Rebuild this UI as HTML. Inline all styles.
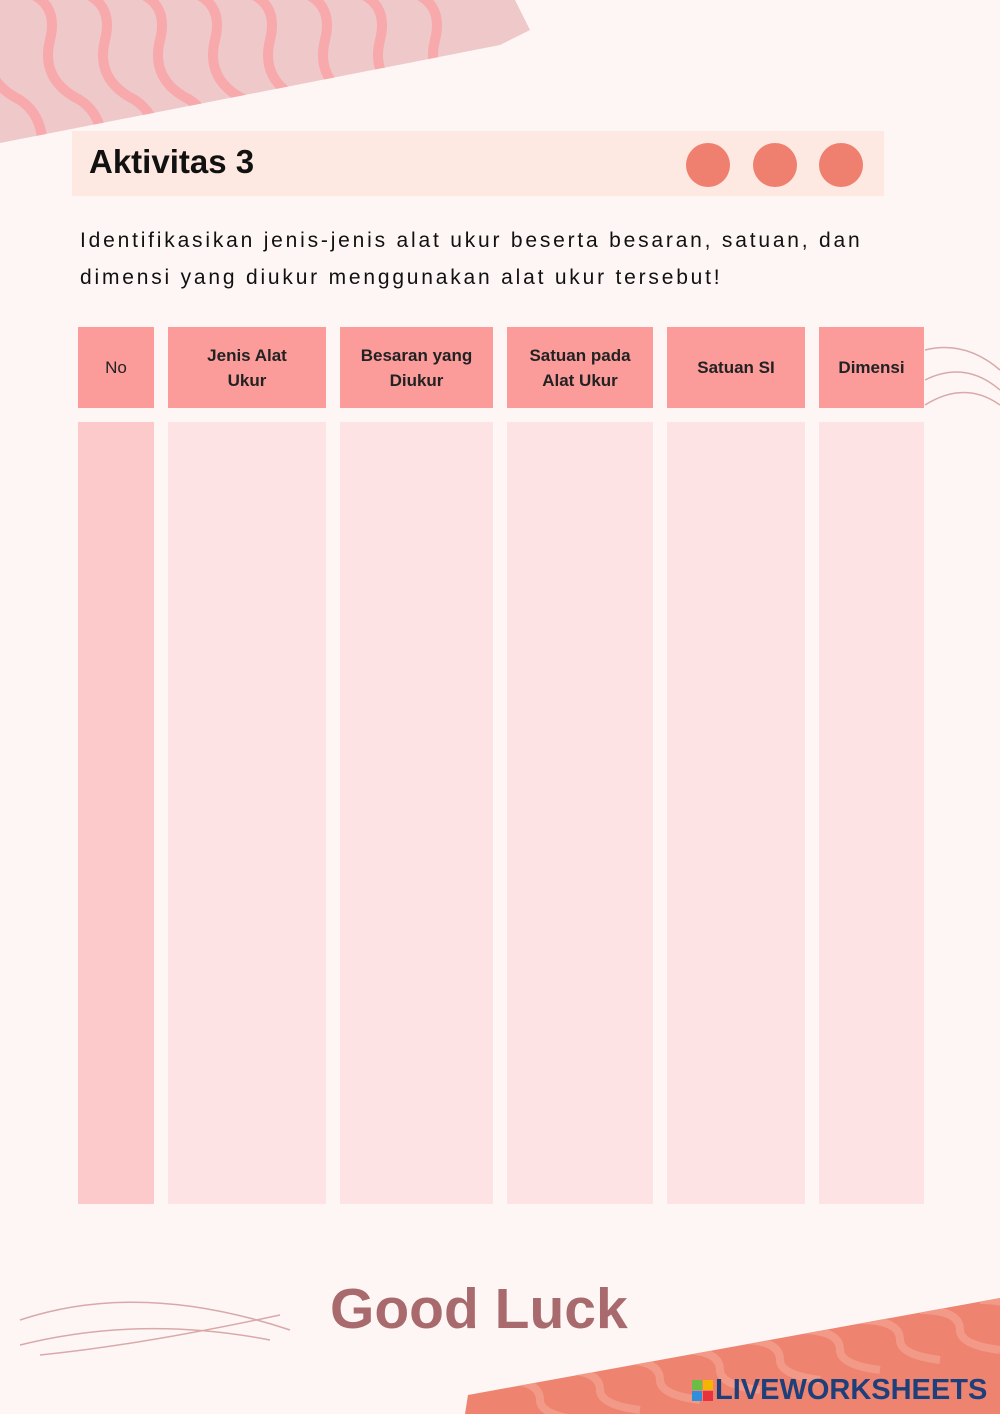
<!DOCTYPE html>
<html><head><meta charset="utf-8"><style>
body{margin:0;width:1000px;height:1414px;background:#fdf6f5;position:relative;overflow:hidden;font-family:"Liberation Sans",sans-serif}
.a{position:absolute}
.h{position:absolute;top:327px;height:81px;background:#fb9c9b;display:flex;align-items:center;justify-content:center;text-align:center;font-size:17px;font-weight:bold;color:#222;line-height:25px}
.b{position:absolute;top:422px;height:782px;background:#fde3e3}
</style></head><body>
<svg class="a" style="left:0;top:0" width="1000" height="1414">
<defs><clipPath id="c1"><polygon points="0,0 515,0 530,30 500,45 0,143"/></clipPath>
<clipPath id="c2"><polygon points="468,1395 1000,1298 1000,1414 465,1414"/></clipPath></defs>
<polygon points="0,0 515,0 530,30 500,45 0,143" fill="#efc8ca"/>
<g clip-path="url(#c1)" stroke="#f8a9ab" stroke-width="10" fill="none" stroke-linecap="round">
<path d="M-40,-10 q40,10 30,50 q-10,40 30,60 q30,20 20,70"/>
<path d="M20,-10 q40,10 30,50 q-10,40 30,60 q30,20 20,70"/>
<path d="M75,-10 q40,10 30,50 q-10,40 30,60 q30,20 20,70"/>
<path d="M130,-10 q40,10 30,50 q-10,40 30,60 q30,20 20,70"/>
<path d="M185,-10 q40,10 30,50 q-10,40 30,60 q30,20 20,70"/>
<path d="M240,-10 q40,10 30,50 q-10,40 30,60 q30,20 20,70"/>
<path d="M295,-10 q40,10 30,50 q-10,40 30,60 q30,20 20,70"/>
<path d="M350,-10 q40,10 30,50 q-10,40 30,60 q30,20 20,70"/>
<path d="M405,-10 q40,10 30,50 q-10,40 30,60 q30,20 20,70"/>
</g>
<polygon points="468,1395 1000,1298 1000,1414 465,1414" fill="#ee8370"/>
<g clip-path="url(#c2)" stroke="#f29a87" stroke-width="8" fill="none">
<path d="M500,1380 q40,0 40,20 q0,15 40,20"/><path d="M560,1370 q40,0 40,20 q0,15 40,20"/>
<path d="M620,1360 q40,0 40,20 q0,15 40,20"/><path d="M680,1350 q40,0 40,20 q0,15 40,20"/>
<path d="M740,1340 q40,0 40,20 q0,15 40,20"/><path d="M800,1330 q40,0 40,20 q0,15 40,20"/>
<path d="M860,1320 q40,0 40,20 q0,15 40,20"/><path d="M920,1310 q40,0 40,20 q0,15 40,20"/>
<path d="M980,1300 q40,0 40,20 q0,15 40,20"/>
</g>
<g stroke="#d9a9a9" stroke-width="1.5" fill="none">
<path d="M925,350 q40,-10 75,20"/><path d="M925,380 q40,-20 75,10"/><path d="M925,405 q40,-25 75,0"/>
<path d="M20,1320 q120,-40 270,10"/><path d="M20,1345 q120,-30 250,-5"/><path d="M40,1355 q100,-10 240,-40"/>
</g>
<circle cx="708" cy="165" r="22" fill="#ef7f6e"/><circle cx="775" cy="165" r="22" fill="#ef7f6e"/><circle cx="841" cy="165" r="22" fill="#ef7f6e"/>
</svg>
<div class="a" style="left:72px;top:131px;width:812px;height:65px;background:#fde9e1;z-index:-1"></div>
<div class="a" style="left:89px;top:143px;font-size:33px;font-weight:bold;color:#111">Aktivitas 3</div>
<div class="a" style="left:80px;top:222px;font-size:21px;line-height:37px;color:#111;letter-spacing:2.8px;width:800px">Identifikasikan jenis-jenis alat ukur beserta besaran, satuan, dan dimensi yang diukur menggunakan alat ukur tersebut!</div>
<div class="h" style="left:78px;width:76px;font-weight:normal">No</div>
<div class="h" style="left:168px;width:158px">Jenis Alat<br>Ukur</div>
<div class="h" style="left:340px;width:153px">Besaran yang<br>Diukur</div>
<div class="h" style="left:507px;width:146px">Satuan pada<br>Alat Ukur</div>
<div class="h" style="left:667px;width:138px">Satuan SI</div>
<div class="h" style="left:819px;width:105px">Dimensi</div>
<div class="b" style="left:78px;width:76px;background:#fccaca"></div>
<div class="b" style="left:168px;width:158px"></div>
<div class="b" style="left:340px;width:153px"></div>
<div class="b" style="left:507px;width:146px"></div>
<div class="b" style="left:667px;width:138px"></div>
<div class="b" style="left:819px;width:105px"></div>
<div class="a" style="left:330px;top:1276px;font-size:57px;font-weight:bold;color:#a86a6c">Good Luck</div>
<div class="a" style="left:692px;top:1374px;display:flex;align-items:center">
<div style="display:grid;grid-template-columns:10px 10px;gap:1px;margin-right:2px"><span style="background:#6cbd45;height:10px"></span><span style="background:#f5b400;height:10px"></span><span style="background:#2f8fdc;height:10px"></span><span style="background:#e8323c;height:10px"></span></div>
<span style="font-size:29px;font-weight:bold;color:#1d3f7a">LIVEWORKSHEETS</span></div>
</body></html>
